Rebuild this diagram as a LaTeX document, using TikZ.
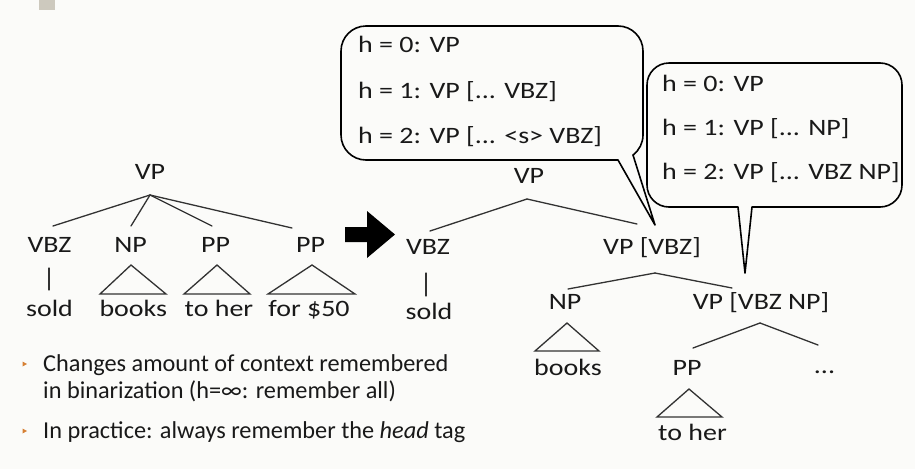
\documentclass[tikz,border=0pt]{standalone}
\usepackage{fontspec}
\setmainfont{Carlito}[FakeStretch=1.19]
\newfontfamily\bodyfont{Carlito}
\definecolor{bg}{RGB}{251,251,249}
\definecolor{ink}{RGB}{25,25,25}
\definecolor{edge}{RGB}{50,50,50}
\definecolor{bulletorange}{RGB}{214,128,52}
\definecolor{tab}{RGB}{205,201,190}
\begin{document}
\begin{tikzpicture}[x=1pt,y=1pt,
  font=\fontsize{23.5}{28}\selectfont,
  lbl/.style={anchor=base, inner sep=0pt, text=ink},
  txt/.style={anchor=base west, inner sep=0pt, text=ink},
  bodytxt/.style={anchor=base west, inner sep=0pt, text=ink,
    font=\bodyfont\fontsize{24.3}{28}\selectfont},
  branch/.style={draw=edge, line width=1.3pt, line cap=round},
  subtree/.style={draw=edge, line width=1.3pt, line join=miter},
  bubble/.style={draw=black, line width=1.6pt, fill=bg, line join=round},
  bullet/.style={fill=bulletorange}]
% page
\fill[bg] (0,0) rectangle (915,-469);
\useasboundingbox (0,0) rectangle (915,-469);
\fill[tab] (39,0) rectangle (55,-10);

% ---------- flat tree ----------
\node[lbl] (lVP)   at (150,-179) {VP};
\node[lbl] (lVBZ)  at (49.5,-252) {VBZ};
\node[lbl] (lNP)   at (130.5,-252) {NP};
\node[lbl] (lPPa)  at (215.5,-252) {PP};
\node[lbl] (lPPb)  at (310.5,-252) {PP};
\node[lbl] (lsold) at (49.5,-316) {sold};
\node[lbl] (lbooks) at (133.3,-316) {books};
\node[lbl] (lher)  at (219,-316) {to her};
\node[lbl] (lfor)  at (309,-316) {for \$50};

\coordinate (lApex) at (150,-195);
\coordinate (lVBZt) at (53,-226);
\coordinate (lNPt)  at (131,-226);
\coordinate (lPPat) at (212,-226);
\coordinate (lPPbt) at (292,-228);
\draw[branch] (lApex) -- (lVBZt);
\draw[branch] (lApex) -- (lNPt);
\draw[branch] (lApex) -- (lPPat);
\draw[branch] (lApex) -- (lPPbt);
\coordinate (lVBZb) at (49,-268);
\coordinate (lsoldt) at (49,-290);
\draw[branch] (lVBZb) -- (lsoldt);
\draw[subtree] (131,-265) -- (100,-294) -- (166,-294) -- cycle;
\draw[subtree] (217,-265) -- (184,-294) -- (250,-294) -- cycle;
\draw[subtree] (312,-265) -- (268,-294) -- (355,-294) -- cycle;

% ---------- arrow ----------
\fill[black] (345,-227) -- (367,-227) -- (367,-211) -- (395,-234.5)
  -- (367,-258) -- (367,-242) -- (345,-242) -- cycle;

% ---------- binarized tree ----------
\node[lbl] (rVP)    at (529,-183) {VP};
\node[lbl] (rVBZ)   at (428,-254) {VBZ};
\node[lbl] (rVPa)   at (652,-254) {VP [VBZ]};
\node[lbl] (rsold)  at (429,-319) {sold};
\node[lbl] (rNP)    at (565,-309) {NP};
\node[lbl] (rVPb)   at (761,-309) {VP [VBZ NP]};
\node[lbl] (rbooks) at (568,-375) {books};
\node[lbl] (rPP)    at (687,-375) {PP};
\node[lbl] (rdots)  at (824.5,-373) {...};
\node[lbl] (rher)   at (692.5,-440) {to her};

\coordinate (rApex)  at (527,-199);
\coordinate (rVBZt)  at (430,-231);
\coordinate (rVPat)  at (637,-224);
\draw[branch] (rApex) -- (rVBZt);
\draw[branch] (rApex) -- (rVPat);
\coordinate (rVBZb)  at (426,-273);
\coordinate (rsoldt) at (426,-296);
\draw[branch] (rVBZb) -- (rsoldt);
\coordinate (rApexA) at (655,-273);
\coordinate (rNPt)   at (568,-289);
\coordinate (rVPbt)  at (732,-288);
\draw[branch] (rApexA) -- (rNPt);
\draw[branch] (rApexA) -- (rVPbt);
\coordinate (rApexB) at (760,-323);
\coordinate (rPPt)   at (693,-348);
\coordinate (rdotst) at (818,-345);
\draw[branch] (rApexB) -- (rPPt);
\draw[branch] (rApexB) -- (rdotst);
\draw[subtree] (567,-323) -- (535,-351) -- (599,-351) -- cycle;
\draw[subtree] (689,-389) -- (657,-417) -- (722,-417) -- cycle;

% ---------- speech bubbles ----------
\coordinate (tipA) at (655,-225);
\draw[bubble] (633,-155) -- (tipA) -- (618,-160) -- (366,-160)
  arc[start angle=270, end angle=180, radius=25] -- (341,-51)
  arc[start angle=180, end angle=90, radius=25] -- (618,-26)
  arc[start angle=90, end angle=0, radius=25] -- (643,-135)
  arc[start angle=0, end angle=-53.13, radius=25] -- cycle;
\node[txt] (hA0) at (358,-52)  {h = 0: VP};
\node[txt] (hA1) at (358,-98)  {h = 1: VP [... VBZ]};
\node[txt] (hA2) at (358,-143) {h = 2: VP [... <s> VBZ]};

\coordinate (tipB) at (745,-273);
\draw[bubble] (752,-207) -- (tipB) -- (738,-207) -- (669,-207)
  arc[start angle=270, end angle=180, radius=22] -- (647,-85)
  arc[start angle=180, end angle=90, radius=22] -- (880,-63)
  arc[start angle=90, end angle=0, radius=22] -- (902,-185)
  arc[start angle=0, end angle=-90, radius=22] -- cycle;
\node[txt] (hB0) at (662,-91)  {h = 0: VP};
\node[txt] (hB1) at (662,-135) {h = 1: VP [... NP]};
\node[txt] (hB2) at (662,-179) {h = 2: VP [... VBZ NP]};

% ---------- bullet points ----------
\fill[bullet] (22.5,-361.5) -- (27,-364) -- (22.5,-366.5) -- cycle;
\node[bodytxt] (b1a) at (43,-371) {Changes amount of context remembered};
\node[bodytxt] (b1b) at (43,-398) {in binarization (h=∞: remember all)};
\fill[bullet] (22.5,-428.5) -- (27,-431) -- (22.5,-433.5) -- cycle;
\node[bodytxt] (b2) at (43,-438) {In practice: always remember the \textit{head} tag};
\end{tikzpicture}
\end{document}
